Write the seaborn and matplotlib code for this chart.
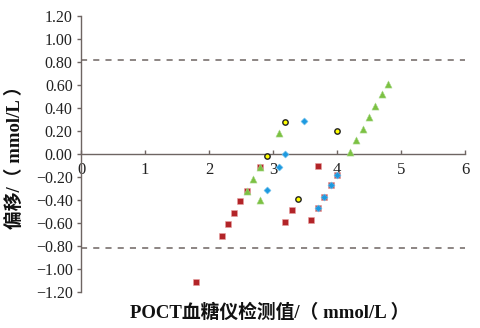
import matplotlib
matplotlib.use("Agg")
import matplotlib.pyplot as plt
import seaborn as sns
import pandas as pd
import numpy as np

sns.set_theme(style="white")
plt.rcParams['font.family'] = ['Liberation Serif', 'Noto Sans CJK SC', 'DejaVu Sans']

# Data
red_x = [1.79, 2.20, 2.29, 2.39, 2.49, 2.59, 2.80, 3.19, 3.30, 3.59, 3.70, 3.70, 3.80, 3.90, 4.00]
red_y = [-1.11, -0.71, -0.61, -0.51, -0.41, -0.32, -0.11, -0.59, -0.49, -0.57, -0.10, -0.47, -0.37, -0.27, -0.18]

green_x = [2.59, 2.69, 2.80, 2.80, 3.09, 4.20, 4.30, 4.40, 4.50, 4.60, 4.70, 4.80]
green_y = [-0.32, -0.22, -0.11, -0.40, 0.18, 0.02, 0.12, 0.22, 0.32, 0.42, 0.52, 0.61]

blue_x = [2.90, 3.09, 3.19, 3.49, 3.70, 3.80, 3.90, 4.00]
blue_y = [-0.31, -0.11, 0.00, 0.29, -0.47, -0.37, -0.27, -0.18]

yellow_x = [2.90, 3.19, 3.39, 4.00]
yellow_y = [-0.02, 0.28, -0.39, 0.20]

limit_hi = 0.82
limit_lo = -0.82

y_ticks = [-1.2, -1.0, -0.8, -0.6, -0.4, -0.2, 0.0, 0.2, 0.4, 0.6, 0.8, 1.0, 1.2]
x_ticks = [0, 1, 2, 3, 4, 5, 6]

fig = plt.figure(figsize=(4.81, 3.28), dpi=100)
ax = fig.add_axes([81/481, 1-292/328, (465-81)/481, (292-16)/328])

sns.scatterplot(x=red_x, y=red_y, marker='s', s=22, color='#b22428', edgecolor='#e8a0a0',
                linewidth=0.4, ax=ax, zorder=3)
sns.scatterplot(x=green_x, y=green_y, marker='^', s=26, color='#7cc142', edgecolor='#a8d88a',
                linewidth=0.4, ax=ax, zorder=4)
sns.scatterplot(x=blue_x, y=blue_y, marker='D', s=13, color='#1e9ae0', edgecolor='#7fc6ee',
                linewidth=0.4, ax=ax, zorder=5)
sns.scatterplot(x=yellow_x, y=yellow_y, marker='o', s=15, color='#ffff00', edgecolor='#222222',
                linewidth=1.0, ax=ax, zorder=6)

dash_color = '#6e6562'
ax.plot([0, 6], [limit_hi, limit_hi], linestyle=(0, (4, 4)), color=dash_color, lw=1.1, zorder=2)
ax.plot([0, 6], [limit_lo, limit_lo], linestyle=(0, (4, 4)), color=dash_color, lw=1.1, zorder=2)

ax.set_xlim(0, 6)
ax.set_ylim(-1.2, 1.2)
ax.set_xticks(x_ticks)
ax.set_xticklabels([str(t) for t in x_ticks])
ax.set_yticks(y_ticks)
ax.set_yticklabels([f"{t:.2f}".replace('-', '\u2212') for t in y_ticks])

spine_color = '#6e6562'
for s in ['top', 'right']:
    ax.spines[s].set_visible(False)
ax.spines['bottom'].set_position(('data', 0))
ax.spines['bottom'].set_color(spine_color)
ax.spines['left'].set_color(spine_color)
ax.spines['bottom'].set_linewidth(1.0)
ax.spines['left'].set_linewidth(1.0)

ax.tick_params(axis='y', direction='out', length=3, width=1, color=spine_color,
               labelsize=11.5, pad=3, left=True)
ax.tick_params(axis='x', direction='in', length=3, width=1, color=spine_color,
               labelsize=12, pad=6, bottom=True)
for lab in ax.get_xticklabels() + ax.get_yticklabels():
    lab.set_family(['Liberation Serif', 'DejaVu Sans'])
    lab.set_color('#222222')
ax.grid(False)
ax.set_facecolor('white')

fam = ['Liberation Serif', 'Noto Sans CJK SC', 'DejaVu Sans']
fig.text(269.5/481, 1-313/328, 'POCT血糖仪检测值/（ mmol/L ）', ha='center', va='center',
         fontsize=13.5, fontweight='bold', family=fam, color='#111111')
fig.text(15/481, 1-153/328, '偏移/（ mmol/L ）', ha='center', va='center', rotation=90,
         fontsize=13.5, fontweight='bold', family=fam, color='#111111')

fig.savefig('out.png', dpi=100, facecolor='white')
